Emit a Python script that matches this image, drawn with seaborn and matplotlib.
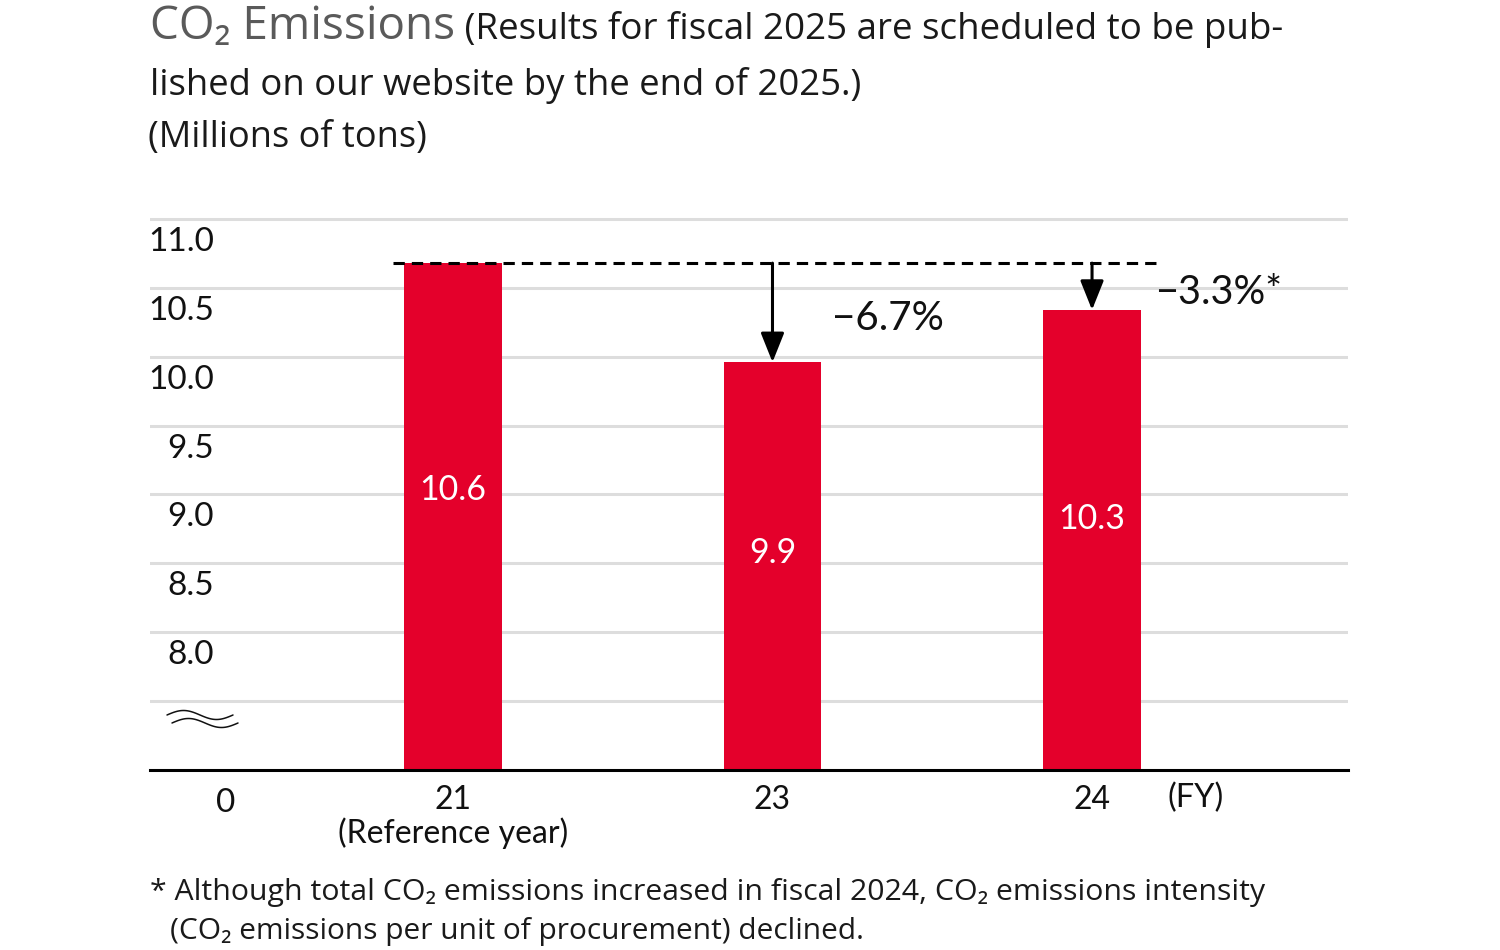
import numpy as np
import pandas as pd
import matplotlib
matplotlib.use("Agg")
import matplotlib.pyplot as plt
import seaborn as sns
from matplotlib.transforms import ScaledTranslation
from matplotlib.lines import Line2D

# ---------------- data ----------------
years = ["21", "23", "24"]
year_tick_labels = ["21\n(Reference year)", "23", "24"]
value_labels = ["10.6", "9.9", "10.3"]
bar_heights = [10.68, 9.96, 10.34]          # bar tops as drawn in the picture
change_labels = ["", "\u22126.7%", "\u22123.3%*"]
y_ticks = [7.5, 8.0, 8.5, 9.0, 9.5, 10.0, 10.5, 11.0]
y_tick_labels = ["", "8.0", "8.5", "9.0", "9.5", "10.0", "10.5", "11.0"]

title_main = "CO\u2082 Emissions"
title_rest_1 = " (Results for fiscal 2025 are scheduled to be pub-"
title_rest_2 = "lished on our website by the end of 2025.)"
unit_label = "(Millions of tons)"
footnote_1 = "* Although total CO\u2082 emissions increased in fiscal 2024, CO\u2082 emissions intensity"
footnote_2 = "(CO\u2082 emissions per unit of procurement) declined."

# ---------------- style ----------------
W, H, DPI = 1500, 950, 100
RED = "#E4002B"
sns.set_theme(style="white")
CHART_FONT = ["Lato", "Noto Sans", "DejaVu Sans"]
TEXT_FONT = ["Open Sans", "Noto Sans", "DejaVu Sans"]
plt.rcParams["font.family"] = CHART_FONT

fig = plt.figure(figsize=(W / DPI, H / DPI), dpi=DPI)
fig.patch.set_facecolor("white")


def fx(px):
    return px / W


def fy(py):
    return 1 - py / H


PX_PER_UNIT = 137.6
Y_BASE_PX = 769.5
ylo, yhi = 7.0, 11.05
top_px = Y_BASE_PX - (yhi - ylo) * PX_PER_UNIT
ax = fig.add_axes([fx(150), fy(Y_BASE_PX), fx(1348) - fx(150), (Y_BASE_PX - top_px) / H])

df = pd.DataFrame({"year": years, "value": bar_heights})
sns.barplot(data=df, x="year", y="value", order=years, color=RED,
            saturation=1, width=0.306, ax=ax, zorder=3, errorbar=None)
for p in ax.patches:
    p.set_edgecolor("none")

ax.set_ylim(ylo, yhi)
ax.set_xlim(-0.948, 2.801)
ax.set_xlabel("")
ax.set_ylabel("")

# grid / ticks
ax.set_yticks(y_ticks)
ax.set_yticklabels(y_tick_labels, fontsize=24, color="#111111")
ax.yaxis.grid(True, color="#dddddd", lw=2.2)
ax.set_axisbelow(True)
ax.tick_params(axis="y", length=0, pad=0)
off = ScaledTranslation(64 / DPI, -20 / DPI, fig.dpi_scale_trans)
for lab in ax.get_yticklabels():
    lab.set_transform(lab.get_transform() + off)

ax.set_xticks(range(len(years)))
ax.set_xticklabels(year_tick_labels, fontsize=23, color="#111111", linespacing=1.1)
ax.tick_params(axis="x", length=0, pad=11)

for s in ["top", "left", "right"]:
    ax.spines[s].set_visible(False)
ax.spines["bottom"].set_color("black")
ax.spines["bottom"].set_linewidth(2.2)
ax.spines["bottom"].set_zorder(4)

# value labels inside bars
label_y = [9.03, 8.57, 8.82]
for i, lab in enumerate(value_labels):
    ax.text(i, label_y[i], lab, color="white", fontsize=24.5, ha="center", va="center", zorder=5)

# reference dashed line and arrows
ax.hlines(bar_heights[0], -0.188, 2.207, colors="black", lw=2.2,
          linestyles=(0, (3.7, 2.3)), zorder=4)
for i in (1, 2):
    ax.annotate("", xy=(i, bar_heights[i]), xytext=(i, bar_heights[0]),
                arrowprops=dict(arrowstyle="-|>,head_length=0.9,head_width=0.36",
                                lw=2.2, color="black", shrinkA=0, shrinkB=0,
                                mutation_scale=20), zorder=5)

fig.text(fx(888), fy(318), change_labels[1], fontsize=29, ha="center", va="center", color="#111111")
fig.text(fx(1219), fy(293), change_labels[2], fontsize=28.5, ha="center", va="center", color="#111111")

# axis extras
fig.text(fx(226), fy(803), "0", fontsize=24, ha="center", va="center", color="#111111")
fig.text(fx(1196), fy(798), "(FY)", fontsize=23.5, ha="center", va="center", color="#111111")

# axis break symbol
t = np.linspace(0, 1, 60)
for (x0, yc) in [(167, 715), (172, 723)]:
    xs = x0 + 66 * t
    ys = yc - 4.5 * np.sin(2 * np.pi * t)
    fig.add_artist(Line2D(fx(xs), fy(ys), transform=fig.transFigure, color="#111111", lw=1.1))

# titles
t1 = fig.text(fx(150), fy(39), title_main, fontsize=33, color="#5a5a5a", va="baseline",
              family=TEXT_FONT)
fig.canvas.draw()
bb = t1.get_window_extent()
fig.text(bb.x1 / W, fy(39), title_rest_1, fontsize=26.5, color="#1a1a1a", va="baseline",
         family=TEXT_FONT)
fig.text(fx(150), fy(95), title_rest_2, fontsize=26.3, color="#1a1a1a", va="baseline",
         family=TEXT_FONT)
fig.text(fx(148), fy(147), unit_label, fontsize=26, color="#1a1a1a", va="baseline",
         family=TEXT_FONT)

fig.text(fx(150), fy(900), footnote_1, fontsize=21.8, color="#1a1a1a", va="baseline",
         family=TEXT_FONT)
fig.text(fx(170), fy(939), footnote_2, fontsize=21.5, color="#1a1a1a", va="baseline",
         family=TEXT_FONT)

fig.savefig("out.png", dpi=DPI, facecolor="white")
